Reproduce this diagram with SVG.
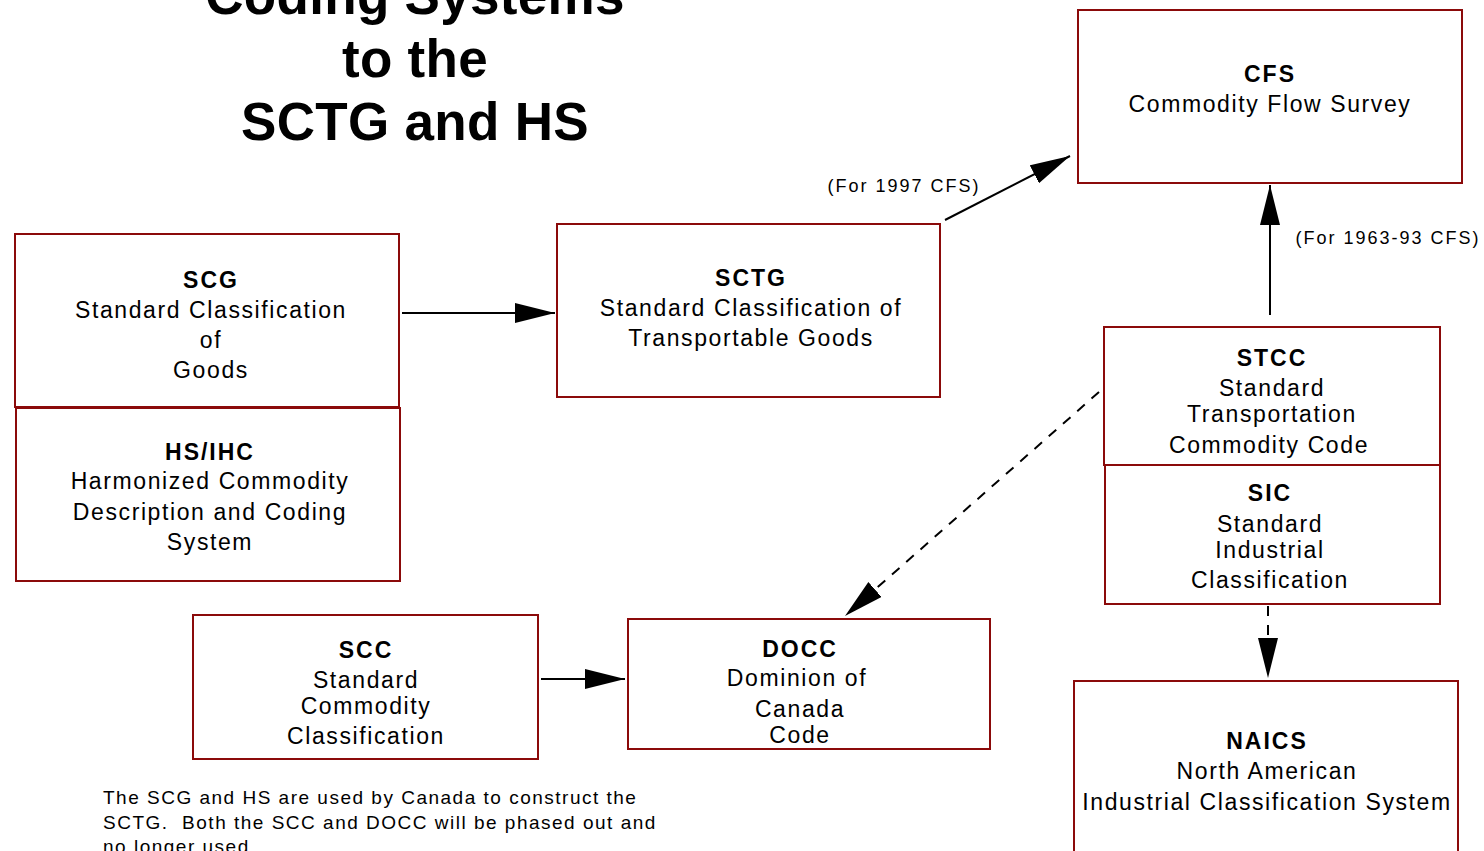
<svg xmlns="http://www.w3.org/2000/svg" width="1484" height="851" viewBox="0 0 1484 851">
<style>
.box{fill:#fff;stroke:#8b0a0a;stroke-width:2}
text{font-family:"Liberation Sans",Arial,sans-serif;fill:#000;text-anchor:middle}
.t{font-size:23px;letter-spacing:1.6px}
.b{font-size:23px;font-weight:bold;letter-spacing:2px}
.title{font-size:53px;font-weight:bold;letter-spacing:0.3px}
.lbl{font-size:18px;letter-spacing:2px}
.note{font-size:19px;letter-spacing:1.5px;text-anchor:start;white-space:pre}
.con{stroke:#000;stroke-width:2;fill:none}
.dash{stroke-dasharray:10 9}
</style>
<defs>
<marker id="ah" markerUnits="userSpaceOnUse" markerWidth="42" markerHeight="22" refX="40" refY="10" orient="auto">
<path d="M0,0 L40,10 L0,20 z" fill="#000"/>
</marker>
</defs>
<rect width="1484" height="851" fill="#fff"/>
<g id="title">
<text class="title" x="415" y="14">Coding Systems</text>
<text class="title" x="415" y="77">to the</text>
<text class="title" x="415" y="140">SCTG and HS</text>
</g>
<g id="connectors">
<line class="con" x1="402" y1="313" x2="555" y2="313" marker-end="url(#ah)"/>
<line class="con" x1="541" y1="679" x2="625" y2="679" marker-end="url(#ah)"/>
<line class="con" x1="945" y1="220" x2="1070" y2="156" marker-end="url(#ah)"/>
<line class="con" x1="1270" y1="315" x2="1270" y2="185" marker-end="url(#ah)"/>
<line class="con dash" x1="1099" y1="392" x2="845" y2="616" marker-end="url(#ah)"/>
<line class="con dash" x1="1268" y1="606" x2="1268" y2="678" marker-end="url(#ah)"/>
<text class="lbl" x="904" y="192">(For 1997 CFS)</text>
<text class="lbl" x="1388" y="244">(For 1963-93 CFS)</text>
</g>
<g id="cfs">
<rect class="box" x="1078" y="10" width="384" height="173"/>
<text class="b" x="1270" y="82">CFS</text>
<text class="t" x="1270" y="112">Commodity Flow Survey</text>
</g>
<g id="scg">
<rect class="box" x="15" y="234" width="384" height="173"/>
<text class="b" x="211" y="288">SCG</text>
<text class="t" x="211" y="318">Standard Classification</text>
<text class="t" x="211" y="348">of</text>
<text class="t" x="211" y="378">Goods</text>
</g>
<g id="hs">
<rect class="box" x="16" y="408" width="384" height="173"/>
<text class="b" x="210" y="460">HS/IHC</text>
<text class="t" x="210" y="489">Harmonized Commodity</text>
<text class="t" x="210" y="520">Description and Coding</text>
<text class="t" x="210" y="550">System</text>
</g>
<g id="sctg">
<rect class="box" x="557" y="224" width="383" height="173"/>
<text class="b" x="751" y="286">SCTG</text>
<text class="t" x="751" y="316">Standard Classification of</text>
<text class="t" x="751" y="346">Transportable Goods</text>
</g>
<g id="stcc">
<rect class="box" x="1104" y="327" width="336" height="138"/>
<text class="b" x="1272" y="366">STCC</text>
<text class="t" x="1272" y="396">Standard</text>
<text class="t" x="1272" y="422">Transportation</text>
<text class="t" x="1269" y="453">Commodity Code</text>
</g>
<g id="sic">
<rect class="box" x="1105" y="465" width="335" height="139"/>
<text class="b" x="1270" y="501">SIC</text>
<text class="t" x="1270" y="532">Standard</text>
<text class="t" x="1270" y="558">Industrial</text>
<text class="t" x="1270" y="588">Classification</text>
</g>
<g id="naics">
<rect class="box" x="1074" y="681" width="384" height="190"/>
<text class="b" x="1267" y="749">NAICS</text>
<text class="t" x="1267" y="779">North American</text>
<text class="t" x="1267" y="810">Industrial Classification System</text>
</g>
<g id="scc">
<rect class="box" x="193" y="615" width="345" height="144"/>
<text class="b" x="366" y="658">SCC</text>
<text class="t" x="366" y="688">Standard</text>
<text class="t" x="366" y="714">Commodity</text>
<text class="t" x="366" y="744">Classification</text>
</g>
<g id="docc">
<rect class="box" x="628" y="619" width="362" height="130"/>
<text class="b" x="800" y="657">DOCC</text>
<text class="t" x="797" y="686">Dominion of</text>
<text class="t" x="800" y="717">Canada</text>
<text class="t" x="800" y="743">Code</text>
</g>
<g id="note">
<text class="note" x="103" y="804" xml:space="preserve">The SCG and HS are used by Canada to construct the</text>
<text class="note" x="103" y="829" xml:space="preserve">SCTG.  Both the SCC and DOCC will be phased out and</text>
<text class="note" x="103" y="853" xml:space="preserve">no longer used.</text>
</g>
</svg>
